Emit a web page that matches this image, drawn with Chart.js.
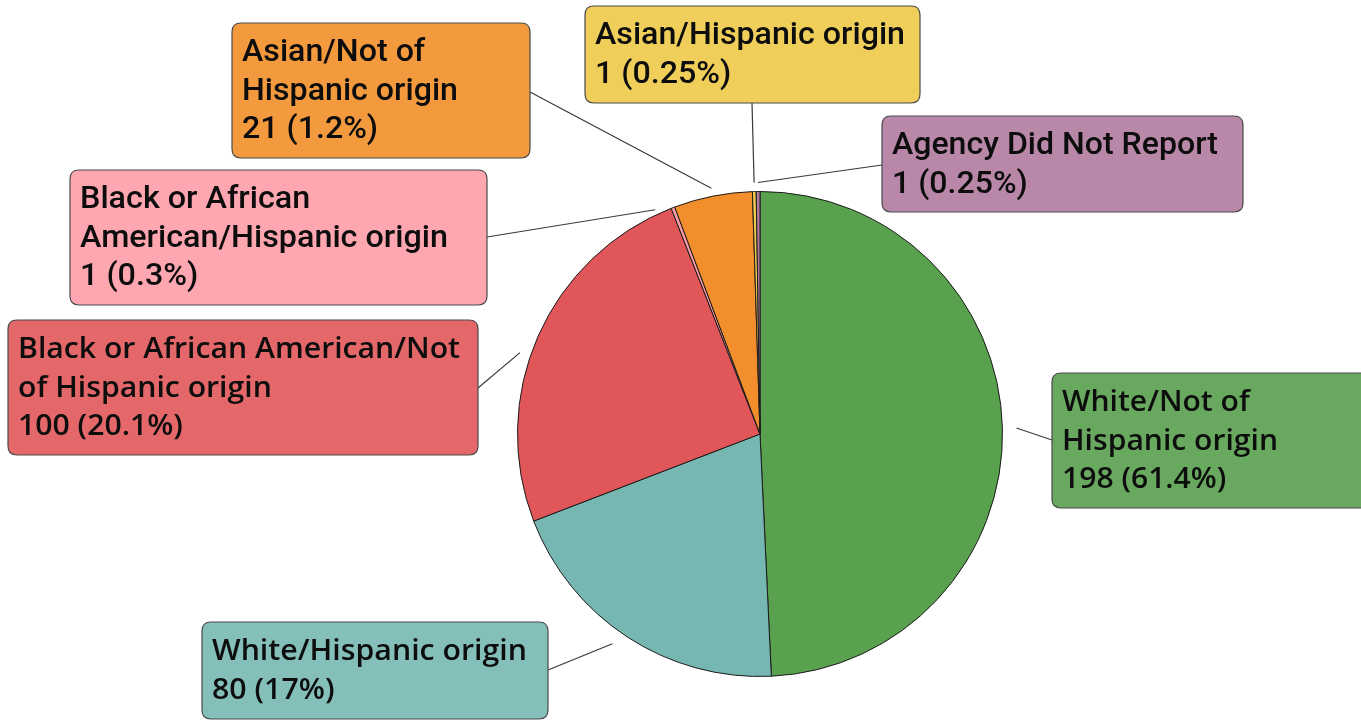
<!DOCTYPE html>
<html>
<head>
<meta charset="utf-8">
<script src="https://cdn.jsdelivr.net/npm/chart.js@4"></script>
<style>
  html, body { margin: 0; padding: 0; background: #ffffff; }
  #wrap { width: 1361px; height: 722px; position: relative; }
</style>
</head>
<body>
<div id="wrap"><canvas id="c" width="1361" height="722"></canvas></div>
<script>
// ---- data ----
const categories = [
  "White/Not of Hispanic origin",
  "White/Hispanic origin",
  "Black or African American/Not of Hispanic origin",
  "Black or African American/Hispanic origin",
  "Asian/Not of Hispanic origin",
  "Asian/Hispanic origin",
  "Agency Did Not Report"
];
const counts = [198, 80, 100, 1, 21, 1, 1];
const percentLabels = ["61.4%", "17%", "20.1%", "0.3%", "1.2%", "0.25%", "0.25%"];
const labelLines = [
  ["White/Not of", "Hispanic origin"],
  ["White/Hispanic origin"],
  ["Black or African American/Not", "of Hispanic origin"],
  ["Black or African", "American/Hispanic origin"],
  ["Asian/Not of", "Hispanic origin"],
  ["Asian/Hispanic origin"],
  ["Agency Did Not Report"]
];

// ---- styles / layout ----
const sliceColors = ["#59a14f", "#76b7b2", "#e15759", "#ff9da7", "#f28e2b", "#edc948", "#b07aa1"];
const boxColors   = ["#68a95f", "#85bfba", "#e4686a", "#ffa7b0", "#f39a3f", "#f0ce5a", "#b988a9"];
// box rectangles, font style, and reference width of one line used to fit text
const boxLayout = [
  { x: 1052, y: 373, w: 320, h: 135, font: "wide",   fitLine: 1, fitWidth: 216, ax: 1052, ay: 440, shift: 0,  rOff: 14 },
  { x: 202,  y: 622, w: 346, h: 97,  font: "wide",   fitLine: 0, fitWidth: 315, ax: 548,  ay: 670, shift: 2,  rOff: 14 },
  { x: 8,    y: 320, w: 470, h: 135, font: "wide",   fitLine: 0, fitWidth: 442, ax: 478,  ay: 388, shift: -5, rOff: 11 },
  { x: 70,   y: 170, w: 417, h: 135, font: "narrow", fitLine: 1, fitWidth: 368, ax: 487,  ay: 237, shift: -4, rOff: 5 },
  { x: 232,  y: 23,  w: 298, h: 135, font: "narrow", fitLine: 1, fitWidth: 216, ax: 530,  ay: 92,  shift: 0,  rOff: 8 },
  { x: 585,  y: 6,   w: 335, h: 97,  font: "narrow", fitLine: 0, fitWidth: 310, ax: 752,  ay: 103, shift: 0,  rOff: 9 },
  { x: 882,  y: 116, w: 361, h: 96,  font: "narrow", fitLine: 0, fitWidth: 326, ax: 882,  ay: 165, shift: 0,  rOff: 9 }
];

function roundRect(ctx, x, y, w, h, r) {
  ctx.beginPath();
  ctx.moveTo(x + r, y);
  ctx.lineTo(x + w - r, y);
  ctx.quadraticCurveTo(x + w, y, x + w, y + r);
  ctx.lineTo(x + w, y + h - r);
  ctx.quadraticCurveTo(x + w, y + h, x + w - r, y + h);
  ctx.lineTo(x + r, y + h);
  ctx.quadraticCurveTo(x, y + h, x, y + h - r);
  ctx.lineTo(x, y + r);
  ctx.quadraticCurveTo(x, y, x + r, y);
  ctx.closePath();
}

const calloutPlugin = {
  id: "callouts",
  afterDatasetsDraw(chart) {
    const ctx = chart.ctx;
    const meta = chart.getDatasetMeta(0);
    ctx.save();
    meta.data.forEach((arc, i) => {
      const p = arc.getProps(["x", "y", "startAngle", "endAngle", "outerRadius"], true);
      const b = boxLayout[i];
      const mid = (p.startAngle + p.endAngle) / 2 + b.shift * Math.PI / 180;
      const r = p.outerRadius + b.rOff;
      const ex = p.x + Math.cos(mid) * r;
      const ey = p.y + Math.sin(mid) * r;
      // leader line
      ctx.beginPath();
      ctx.strokeStyle = "#3a3a3a";
      ctx.lineWidth = 1.2;
      ctx.moveTo(b.ax, b.ay);
      ctx.lineTo(ex, ey);
      ctx.stroke();
      // box
      roundRect(ctx, b.x, b.y, b.w, b.h, 9);
      ctx.fillStyle = boxColors[i];
      ctx.fill();
      ctx.strokeStyle = "#4a4a4a";
      ctx.lineWidth = 1.2;
      ctx.stroke();
      // text
      const lines = labelLines[i].concat([counts[i] + " (" + percentLabels[i] + ")"]);
      ctx.fillStyle = "#0d0d0d";
      ctx.textBaseline = "middle";
      ctx.textAlign = "left";
      if (b.font === "narrow") {
        ctx.font = "500 32px Roboto, 'Liberation Sans', sans-serif";
      } else {
        ctx.font = "600 29px 'Open Sans', 'DejaVu Sans', sans-serif";
      }
      const mw = ctx.measureText(lines[b.fitLine]).width;
      const sx = b.fitWidth / mw;
      lines.forEach((t, k) => {
        ctx.save();
        ctx.translate(b.x + 10, b.y + 30 + k * 38.5);
        ctx.scale(sx, 1);
        ctx.fillText(t, 0, 0);
        ctx.restore();
      });
    });
    ctx.restore();
  }
};

new Chart(document.getElementById("c"), {
  type: "pie",
  data: {
    labels: categories,
    datasets: [{
      data: counts,
      backgroundColor: sliceColors,
      borderColor: "#1a1a1a",
      borderWidth: 1
    }]
  },
  options: {
    responsive: false,
    animation: false,
    layout: { padding: { left: 517, right: 358, top: 191, bottom: 45 } },
    plugins: {
      legend: { display: false },
      tooltip: { enabled: false },
      title: { display: false }
    }
  },
  plugins: [calloutPlugin]
});
</script>
</body>
</html>
